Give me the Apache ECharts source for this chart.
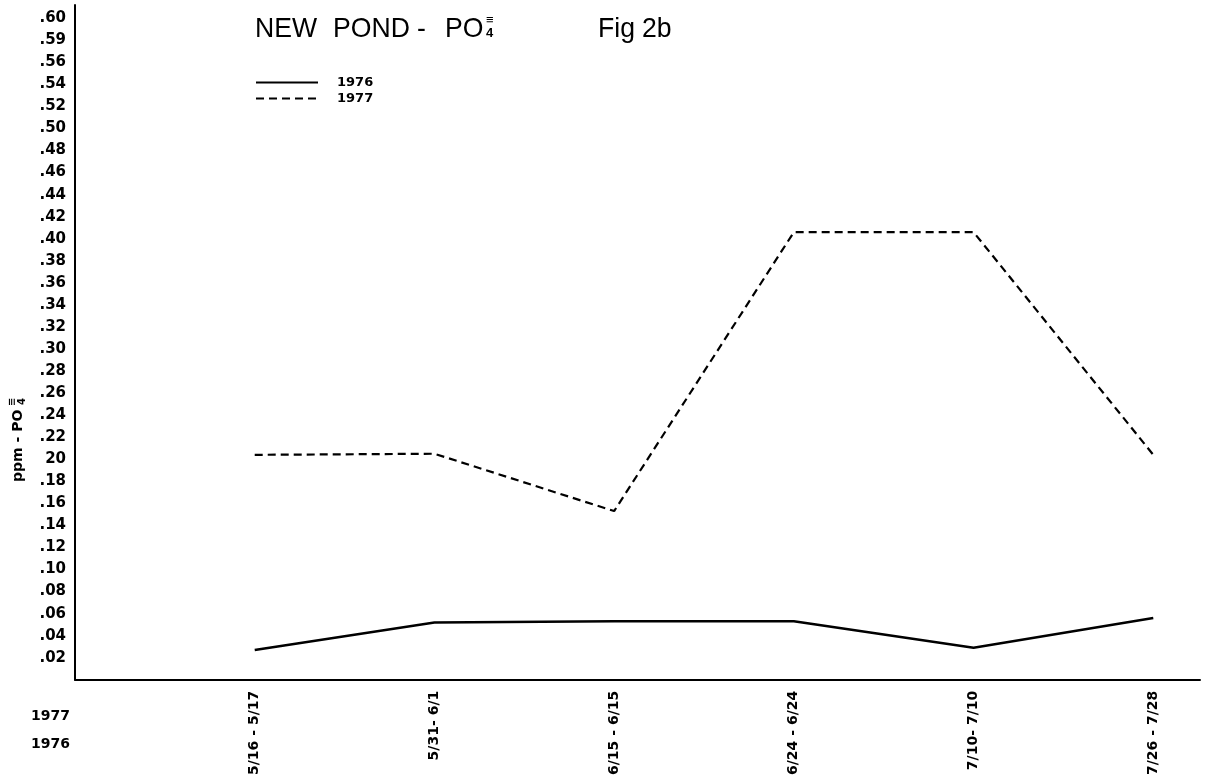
<!DOCTYPE html>
<html>
<head>
<meta charset="utf-8">
<script src="https://cdn.jsdelivr.net/npm/echarts@6/dist/echarts.min.js"></script>
<style>html,body{margin:0;padding:0;background:#fff}#c{width:1205px;height:778px}</style>
</head>
<body>
<div id="c"></div>
<script>
const categories = ['5/16 - 5/17', '5/31- 6/1', '6/15 - 6/15', '6/24 - 6/24', '7/10- 7/10', '7/26 - 7/28'];
const values1976 = [0.027, 0.052, 0.053, 0.053, 0.029, 0.056];
const values1977 = [0.204, 0.205, 0.153, 0.406, 0.406, 0.204];
const yTickLabels = ['', '.02', '.04', '.06', '.08', '.10', '.12', '.14', '.16', '.18', '20', '.22', '.24', '.26', '.28', '.30',
  '.32', '.34', '.36', '.38', '.40', '.42', '.44', '.46', '.48', '.50', '.52', '.54', '.56', '.59', '.60'];
const seriesNames = ['1976', '1977'];
const rowLabels = ['1977', '1976'];

const chart = echarts.init(document.getElementById('c'), null, {renderer: 'canvas'});
const sansF = '"Liberation Sans", Arial, sans-serif';
const boldF = '"DejaVu Sans", sans-serif';
const toPts = arr => arr.map((v, i) => [i + 1, v]);
const titleWord = (txt, left) => ({type: 'text', x: left, y: 15, scaleX: 0.95,
  style: {text: txt, font: '28px ' + sansF, fill: '#000', textVerticalAlign: 'top'}});

chart.setOption({
  backgroundColor: '#fff',
  animation: false,
  grid: {left: 75, right: 5, top: 5, bottom: 98, containLabel: false},
  legend: {
    orient: 'vertical', left: 255, top: 76, padding: 0, itemWidth: 62, itemHeight: 14, itemGap: 3,
    data: seriesNames,
    itemStyle: {opacity: 0},
    textStyle: {fontFamily: boldF, fontWeight: 'bold', fontSize: 13, color: '#000', padding: [0, 0, 0, 14]}
  },
  xAxis: {
    type: 'value', min: 0, max: 6.26, interval: 1,
    axisLine: {show: true, onZero: false, lineStyle: {color: '#000', width: 2}},
    axisTick: {show: false},
    splitLine: {show: false},
    axisLabel: {
      rotate: 90, margin: 11, fontFamily: boldF, fontWeight: 'bold', fontSize: 14, color: '#000',
      formatter: v => (Math.abs(v - Math.round(v)) < 1e-6 && v >= 1 && v <= categories.length) ? categories[Math.round(v) - 1] : ''
    }
  },
  yAxis: {
    type: 'value', min: 0, max: 0.612, interval: 0.02,
    axisLine: {show: true, lineStyle: {color: '#000', width: 2}},
    axisTick: {show: false},
    splitLine: {show: false},
    axisLabel: {
      margin: 9, fontFamily: boldF, fontWeight: 'bold', fontSize: 15, color: '#000',
      formatter: v => { const k = Math.round(v * 50); if (Math.abs(v * 50 - k) > 0.01) return ''; return yTickLabels[k] || ''; }
    }
  },
  series: [
    {name: seriesNames[0], type: 'line', data: toPts(values1976), showSymbol: false, symbol: 'none',
      lineStyle: {color: '#000', width: 2.5, type: 'solid'}, itemStyle: {color: '#000'}},
    {name: seriesNames[1], type: 'line', data: toPts(values1977), showSymbol: false, symbol: 'none',
      lineStyle: {color: '#000', width: 2.2, type: [8, 5]}, itemStyle: {color: '#000'}}
  ],
  graphic: [
    titleWord('NEW', 255),
    titleWord('POND', 333),
    titleWord('-', 417),
    titleWord('PO', 445),
    {type: 'text', x: 486, y: 14, style: {text: '≡', font: 'bold 13px ' + sansF, fill: '#000', textVerticalAlign: 'top'}},
    {type: 'text', x: 486, y: 27, style: {text: '4', font: 'bold 13px ' + sansF, fill: '#000', textVerticalAlign: 'top'}},
    titleWord('Fig', 598),
    titleWord('2b', 642),
    {type: 'text', left: 31, top: 709, style: {text: rowLabels[0], font: 'bold 14px ' + boldF, fill: '#000'}},
    {type: 'text', left: 31, top: 737, style: {text: rowLabels[1], font: 'bold 14px ' + boldF, fill: '#000'}},
    {type: 'group', x: 18, y: 482, rotation: Math.PI / 2, children: [
      {type: 'text', x: 0, y: 0, style: {text: 'ppm - PO', font: 'bold 14px ' + boldF, fill: '#000', textVerticalAlign: 'middle'}},
      {type: 'text', x: 76, y: -6, style: {text: '≡', font: 'bold 10px ' + boldF, fill: '#000', textVerticalAlign: 'middle'}},
      {type: 'text', x: 77, y: 4, style: {text: '4', font: 'bold 10px ' + boldF, fill: '#000', textVerticalAlign: 'middle'}}
    ]}
  ]
});
</script>
</body>
</html>
